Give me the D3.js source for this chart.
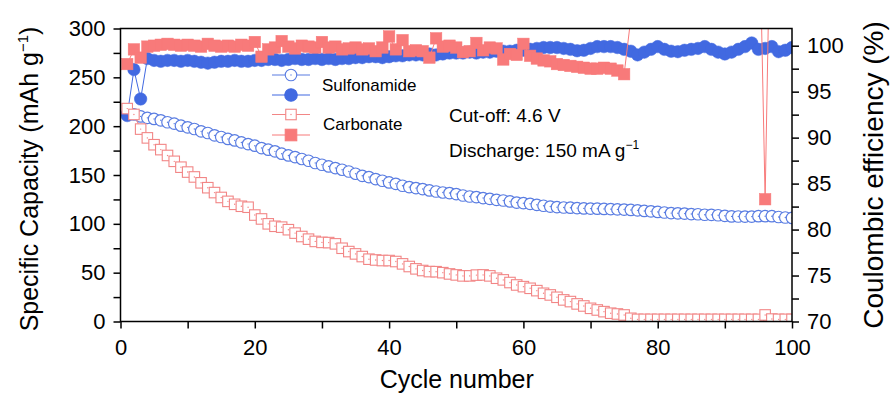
<!DOCTYPE html>
<html><head><meta charset="utf-8">
<script src="https://cdn.jsdelivr.net/npm/d3@7"></script>
<style>
html,body{margin:0;padding:0;background:#fff;}
svg{display:block;font-family:"Liberation Sans",Arial,Helvetica,sans-serif;}
</style></head>
<body><svg id="chart" width="890" height="396"></svg>
<script>
const cycles = d3.range(1, 101);

const sulfCap = [213, 212, 210, 208.5, 207.4, 206, 204, 202.6, 200.5, 198.8,
197.1, 194.7, 193, 190.6, 188.9, 186.9, 185.4, 183.4, 181.7, 180,
177.6, 175.9, 174.2, 171.8, 170, 168.4, 166.4, 164.6, 162.3, 160.5,
158.8, 157.1, 155.4, 153.6, 151.3, 149.2, 147.9, 145.8, 144.1, 142.4,
141, 139, 137.6, 136.6, 135.6, 134.2, 133.1, 132.1, 131.5, 130.5,
129, 128, 127.4, 126.4, 125.6, 124.6, 123.9, 122.9, 121.8, 121.2,
120.5, 119.5, 118.5, 117.7, 117.1, 116.7, 116.5, 116.1, 115.8, 115.6,
115.5, 115.3, 115.1, 114.8, 114.6, 114.2, 113.8, 113.2, 112.8, 112.2,
111.6, 111, 110.8, 110.5, 110, 109.8, 109.3, 109.2, 108.8, 108.2,
107.6, 107.5, 107.4, 107.4, 107.8, 107.8, 107.8, 107, 106.5, 106];

const carbCap = [218, 212, 197, 188, 181, 176, 170, 164, 158, 153,
148, 142, 137, 132, 127, 123, 120, 118, 117, 109,
105, 100, 97.5, 96.6, 94, 90.5, 87, 84.3, 82, 81,
80.8, 79.5, 75, 71.6, 69.2, 66.5, 63.8, 63, 62.4, 62.4,
61.4, 59, 56.3, 53.9, 52.2, 51.1, 51, 50, 48.7, 47.7,
46.7, 46.7, 47.5, 47.7, 46.7, 44.3, 42.6, 39.9, 37.4, 35.7,
34, 31.6, 28.9, 27.2, 24.8, 22.1, 20.4, 18, 15.9, 13.5,
11.8, 10.1, 8.5, 7.7, 6.7, 3.3, 2.2, 2.2, 2.2, 2.2,
2.2, 2.2, 2.2, 2.2, 2.2, 2.2, 2.2, 2.2, 2.2, 2.2,
2.2, 2.2, 2.2, 2.2, 2.2, 6.7, 2.5, 2.2, 2.2, 2.2];

const sulfCE = [92.4, 97.4, 94.2, 98.6, 98.4, 98.3, 98.4, 98.4, 98.3, 98.4,
98.3, 98.2, 98.1, 98.2, 98.3, 98.3, 98.4, 98.3, 98.3, 98.4,
98.4, 98.5, 98.5, 98.4, 98.5, 98.6, 98.5, 98.5, 98.6, 98.5,
98.6, 98.5, 98.6, 98.6, 98.7, 98.7, 98.8, 98.8, 98.7, 98.8,
98.9, 98.9, 99.0, 99.0, 99.0, 99.1, 99.0, 99.1, 99.2, 99.2,
99.2, 99.3, 99.2, 99.3, 99.3, 99.4, 99.4, 99.4, 99.5, 99.5,
99.6, 99.7, 99.8, 99.8, 99.8, 99.7, 99.6, 99.45, 99.5, 99.7,
99.9, 99.9, 99.9, 99.8, 99.6, 99.4, 99.0, 99.3, 99.6, 99.9,
99.6, 99.4, 99.35, 99.5, 99.6, 99.7, 99.9, 99.6, 99.3, 99.1,
99.3, 99.6, 99.9, 100.3, 99.6, 99.7, 99.9, 99.35, 99.5, 99.8];

// values above ~102 are off the top of the chart (clipped)
const carbCE = [98.0, 99.6, 98.7, 99.9, 100.0, 100.1, 100.2, 100.1, 100.0, 100.1,
100.0, 99.9, 100.2, 100.0, 99.9, 100.0, 99.9, 100.1, 100.0, 100.4,
98.8, 99.6, 99.8, 100.5, 99.9, 99.7, 100.0, 99.9, 99.8, 100.4,
99.8, 99.9, 99.6, 99.7, 99.8, 99.6, 99.7, 99.4, 99.8, 101.0,
99.6, 100.6, 99.4, 99.5, 99.4, 98.7, 100.8, 99.9, 100.0, 99.8,
99.3, 99.4, 100.3, 99.5, 99.8, 99.7, 98.5, 99.1, 99.0, 100.2,
98.9, 98.6, 98.4, 98.3, 98.0, 97.9, 97.8, 97.7, 97.6, 97.5,
97.5, 97.6, 97.5, 97.3, 96.9, 103, 130, 130, 130, 130,
130, 130, 130, 130, 130, 130, 130, 130, 130, 130,
130, 130, 130, 130, 119, 83.3, 124, 130, 130, 130];

const xTicks = d3.range(0, 101, 10);
const xLabels = [0, 20, 40, 60, 80, 100];
const yLTicks = d3.range(0, 301, 25);
const yLLabels = [0, 50, 100, 150, 200, 250, 300];
const yRTicks = d3.range(70, 101, 2.5);
const yRLabels = [70, 75, 80, 85, 90, 95, 100];

const blue = "#4169e1", blueLight = "#5a7de2", pink = "#f87a7a", pinkLight = "#f28686";

const L = 120.5, R = 792, T = 28.5, B = 321.5;
const svg = d3.select("#chart");
const x = d3.scaleLinear().domain([0, 100]).range([L, R]);
const yL = d3.scaleLinear().domain([0, 300]).range([B, T]);
const yR = d3.scaleLinear().domain([70, 101.87]).range([B, T]);

svg.append("defs").append("clipPath").attr("id", "clip")
  .append("rect").attr("x", L).attr("y", T).attr("width", R - L).attr("height", B - T);

const plot = svg.append("g").attr("clip-path", "url(#clip)");

function drawSeries(vals, yScale, opts) {
  const data = cycles.map((c, i) => [c, vals[i]]);
  plot.append("path").datum(data)
    .attr("fill", "none").attr("stroke", opts.line).attr("stroke-width", 1)
    .attr("d", d3.line().x(d => x(d[0])).y(d => yScale(d[1])));
  const g = plot.append("g");
  if (opts.shape === "circle") {
    g.selectAll("circle").data(data).join("circle")
      .attr("cx", d => x(d[0])).attr("cy", d => yScale(d[1]))
      .attr("r", opts.size / 2)
      .attr("fill", opts.fill).attr("stroke", opts.stroke).attr("stroke-width", opts.sw);
  } else {
    g.selectAll("rect").data(data).join("rect")
      .attr("x", d => x(d[0]) - opts.size / 2).attr("y", d => yScale(d[1]) - opts.size / 2)
      .attr("width", opts.size).attr("height", opts.size)
      .attr("fill", opts.fill).attr("stroke", opts.stroke).attr("stroke-width", opts.sw);
  }
  if (opts.dot) {
    g.selectAll("circle.dot").data(data).join("circle").attr("class", "dot")
      .attr("cx", d => x(d[0])).attr("cy", d => yScale(d[1])).attr("r", 0.7)
      .attr("fill", opts.stroke);
  }
}

drawSeries(sulfCap, yL, {shape: "circle", size: 11.5, fill: "#fff", stroke: blueLight, sw: 1.2, line: blueLight, dot: true});
drawSeries(sulfCE, yR, {shape: "circle", size: 12.5, fill: blue, stroke: blue, sw: 0.5, line: blue});
drawSeries(carbCap, yL, {shape: "rect", size: 10.5, fill: "#fff", stroke: pinkLight, sw: 1.1, line: pinkLight, dot: true});
drawSeries(carbCE, yR, {shape: "rect", size: 11.5, fill: pink, stroke: pink, sw: 0.5, line: pink});

// axes
const fs = "22px";
const axL = svg.append("g").attr("transform", `translate(${L},0)`)
  .call(d3.axisLeft(yL).tickValues(yLTicks).tickSize(7).tickPadding(8)
    .tickFormat(d => yLLabels.includes(d) ? d : ""));
const axB = svg.append("g").attr("transform", `translate(0,${B})`)
  .call(d3.axisBottom(x).tickValues(xTicks).tickSize(7).tickPadding(11)
    .tickFormat(d => xLabels.includes(d) ? d : ""));
const axR = svg.append("g").attr("transform", `translate(${R},0)`)
  .call(d3.axisRight(yR).tickValues(yRTicks).tickSize(7).tickPadding(8)
    .tickFormat(d => yRLabels.includes(d) ? d : ""));
[axL, axB, axR].forEach(a => {
  a.selectAll("path.domain").remove();
  a.selectAll("line").attr("stroke", "#000").attr("stroke-width", 1.5);
  a.selectAll("text").attr("font-size", fs).attr("fill", "#000")
    .attr("font-family", "'Liberation Sans',Arial,sans-serif");
});
svg.append("rect").attr("x", L).attr("y", T).attr("width", R - L).attr("height", B - T)
  .attr("fill", "none").attr("stroke", "#000").attr("stroke-width", 1.5);

// axis titles
svg.append("text").attr("x", (L + R) / 2 + 0.5).attr("y", 388).attr("text-anchor", "middle")
  .attr("font-size", "25px").text("Cycle number");

const lt = svg.append("text").attr("transform", "translate(38,179) rotate(-90)")
  .attr("text-anchor", "middle").attr("font-size", "25px");
lt.append("tspan").text("Specific Capacity (mAh g");
lt.append("tspan").attr("font-size", "15px").attr("dy", "-10").text("\u22121");
lt.append("tspan").attr("dy", "10").text(")");

svg.append("text").attr("transform", "translate(883,175) rotate(-90)")
  .attr("text-anchor", "middle").attr("font-size", "28px").text("Coulombic efficiency (%)");

// annotations
svg.append("text").attr("x", 449).attr("y", 122).attr("font-size", "19px").text("Cut-off: 4.6 V");
const dt = svg.append("text").attr("x", 449).attr("y", 157).attr("font-size", "19px");
dt.append("tspan").text("Discharge: 150 mA g");
dt.append("tspan").attr("font-size", "12px").attr("dy", "-8").text("\u22121");

// legend
const legendRows = [
  {y: 75, shape: "circle", fill: "#fff", stroke: blueLight, size: 11.5, dot: true},
  {y: 95, shape: "circle", fill: blue, stroke: blue, size: 12.5},
  {y: 114.5, shape: "rect", fill: "#fff", stroke: pinkLight, size: 10.5, dot: true},
  {y: 135, shape: "rect", fill: pink, stroke: pink, size: 11.5}
];
const lg = svg.append("g");
legendRows.forEach(r => {
  lg.append("line").attr("x1", 272).attr("x2", 310).attr("y1", r.y).attr("y2", r.y)
    .attr("stroke", r.stroke).attr("stroke-width", 1.2);
  if (r.shape === "circle") {
    lg.append("circle").attr("cx", 291).attr("cy", r.y).attr("r", r.size / 2)
      .attr("fill", r.fill).attr("stroke", r.stroke).attr("stroke-width", 1.1);
  } else {
    lg.append("rect").attr("x", 291 - r.size / 2).attr("y", r.y - r.size / 2)
      .attr("width", r.size).attr("height", r.size).attr("fill", r.fill).attr("stroke", r.stroke).attr("stroke-width", 1.1);
  }
  if (r.dot) lg.append("circle").attr("cx", 291).attr("cy", r.y).attr("r", 0.7).attr("fill", r.stroke);
});
lg.append("text").attr("x", 322).attr("y", 91).attr("font-size", "17px").text("Sulfonamide");
lg.append("text").attr("x", 323).attr("y", 129.5).attr("font-size", "17px").text("Carbonate");
</script></body></html>
